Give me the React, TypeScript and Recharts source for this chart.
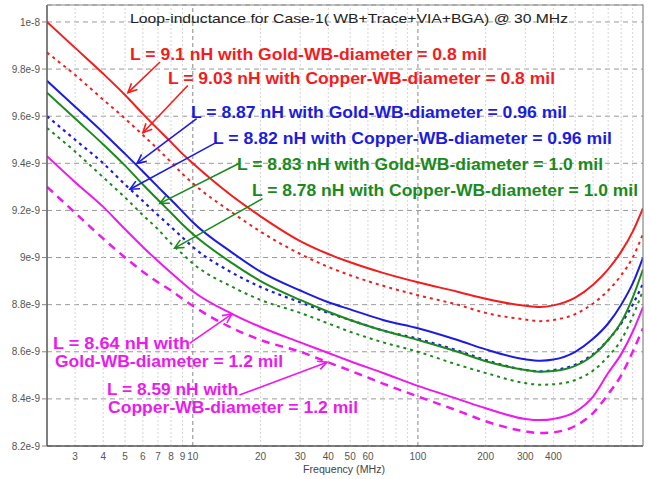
import React from "react";
import { LineChart, Line, XAxis, YAxis, CartesianGrid, ReferenceLine } from "recharts";

// frequency in MHz, inductance in nH (axis shows it as e-9)
const freqs = [2.25, 3, 4, 5, 6, 7, 8, 9, 10, 15, 20, 30, 40, 50, 70, 100, 150, 200, 300, 350, 400, 500, 600, 700, 800, 900, 1000];

const goldWb08 = [10.0, 9.89, 9.78, 9.69, 9.61, 9.545, 9.49, 9.44, 9.4, 9.26, 9.175, 9.07, 9.015, 8.98, 8.935, 8.895, 8.855, 8.825, 8.795, 8.79, 8.797, 8.83, 8.885, 8.95, 9.025, 9.11, 9.21];
const copperWb08 = [9.87, 9.775, 9.67, 9.59, 9.52, 9.46, 9.405, 9.355, 9.315, 9.19, 9.11, 9.015, 8.96, 8.925, 8.88, 8.84, 8.8, 8.765, 8.737, 8.73, 8.735, 8.76, 8.805, 8.86, 8.925, 9.0, 9.1];
const goldWb096 = [9.75, 9.64, 9.53, 9.44, 9.365, 9.3, 9.245, 9.195, 9.15, 9.02, 8.94, 8.86, 8.81, 8.78, 8.735, 8.7, 8.65, 8.61, 8.568, 8.562, 8.567, 8.6, 8.655, 8.72, 8.8, 8.89, 9.0];
const copperWb096 = [9.6, 9.5, 9.4, 9.31, 9.24, 9.18, 9.13, 9.085, 9.045, 8.935, 8.875, 8.81, 8.765, 8.735, 8.69, 8.655, 8.605, 8.565, 8.523, 8.517, 8.522, 8.545, 8.59, 8.65, 8.72, 8.8, 8.89];
const goldWb10 = [9.7, 9.59, 9.48, 9.39, 9.31, 9.245, 9.19, 9.14, 9.1, 8.975, 8.9, 8.82, 8.77, 8.735, 8.69, 8.65, 8.6, 8.56, 8.523, 8.515, 8.518, 8.54, 8.585, 8.65, 8.725, 8.83, 8.95];
const copperWb10 = [9.55, 9.45, 9.34, 9.255, 9.18, 9.12, 9.06, 9.015, 8.975, 8.875, 8.82, 8.765, 8.72, 8.685, 8.64, 8.6, 8.545, 8.51, 8.467, 8.46, 8.462, 8.48, 8.52, 8.58, 8.65, 8.75, 8.86];
const goldWb12 = [9.43, 9.32, 9.215, 9.12, 9.045, 8.985, 8.935, 8.893, 8.857, 8.76, 8.705, 8.64, 8.595, 8.56, 8.51, 8.455, 8.4, 8.36, 8.315, 8.31, 8.315, 8.345, 8.41, 8.51, 8.59, 8.685, 8.79];
const copperWb12 = [9.3, 9.19, 9.08, 9.0, 8.94, 8.895, 8.86, 8.825, 8.795, 8.7, 8.65, 8.6, 8.555, 8.52, 8.465, 8.41, 8.35, 8.305, 8.262, 8.255, 8.258, 8.285, 8.34, 8.42, 8.5, 8.6, 8.7];

const xTicks = [3, 4, 5, 6, 7, 8, 9, 10, 20, 30, 40, 50, 60, 100, 200, 300, 400];
const yTicks = [8.2, 8.4, 8.6, 8.8, 9, 9.2, 9.4, 9.6, 9.8, 10];
const minorGrid = [3, 4, 5, 6, 7, 8, 9, 20, 30, 40, 50, 60, 70, 80, 90, 200, 300, 400, 500, 600, 700, 800, 900];
const majorGrid = [10, 100];

const RED = "#f41c1c";
const BLUE = "#1c1ce0";
const GREEN = "#1b8a1b";
const MAGENTA = "#ec1aec";

const data = freqs.map((f, i) => ({
  f,
  goldWb08: goldWb08[i],
  copperWb08: copperWb08[i],
  goldWb096: goldWb096[i],
  copperWb096: copperWb096[i],
  goldWb10: goldWb10[i],
  copperWb10: copperWb10[i],
  goldWb12: goldWb12[i],
  copperWb12: copperWb12[i],
}));

const series = [
  { key: "goldWb08", color: RED, dash: undefined, width: 2 },
  { key: "copperWb08", color: RED, dash: "3 4", width: 2 },
  { key: "goldWb096", color: BLUE, dash: undefined, width: 2 },
  { key: "copperWb096", color: BLUE, dash: "3 4", width: 2.2 },
  { key: "goldWb10", color: GREEN, dash: undefined, width: 2 },
  { key: "copperWb10", color: GREEN, dash: "3 4", width: 2 },
  { key: "goldWb12", color: MAGENTA, dash: undefined, width: 2 },
  { key: "copperWb12", color: MAGENTA, dash: "8 6", width: 2.5 },
];

// annotation arrows, [freq, nH] from label to curve
const arrows = [
  { color: RED, from: [7.15, 9.83], to: [5.15, 9.7] },
  { color: RED, from: [9.5, 9.73], to: [6.0, 9.53] },
  { color: BLUE, from: [10.4, 9.59], to: [5.65, 9.4] },
  { color: BLUE, from: [12.8, 9.49], to: [5.26, 9.29] },
  { color: GREEN, from: [16.1, 9.4], to: [7.14, 9.23] },
  { color: GREEN, from: [20.4, 9.25], to: [8.3, 9.04] },
  { color: MAGENTA, from: [9.7, 8.637], to: [14.9, 8.76] },
  { color: MAGENTA, from: [16.1, 8.416], to: [39.5, 8.556] },
];

const notes = [
  { text: "L = 9.1 nH with Gold-WB-diameter = 0.8 mil", x: 130, y: 60, w: 357, color: RED },
  { text: "L = 9.03 nH with Copper-WB-diameter = 0.8 mil", x: 168, y: 84, w: 387, color: RED },
  { text: "L = 8.87 nH with Gold-WB-diameter = 0.96 mil", x: 191, y: 118, w: 376, color: BLUE },
  { text: "L = 8.82 nH with Copper-WB-diameter = 0.96 mil", x: 213, y: 144, w: 399, color: BLUE },
  { text: "L = 8.83 nH with Gold-WB-diameter = 1.0 mil", x: 237, y: 170, w: 366, color: GREEN },
  { text: "L = 8.78 nH with Copper-WB-diameter = 1.0 mil", x: 252, y: 196, w: 386, color: GREEN },
  { text: "L = 8.64 nH with", x: 53, y: 349, w: 137, color: MAGENTA },
  { text: "Gold-WB-diameter = 1.2 mil", x: 55, y: 367, w: 228, color: MAGENTA },
  { text: "L = 8.59 nH with", x: 107, y: 395, w: 131, color: MAGENTA },
  { text: "Copper-WB-diameter = 1.2 mil", x: 108, y: 413, w: 250, color: MAGENTA },
];

const FONT = "'Liberation Sans', Arial, Helvetica, sans-serif";

function formatY(v: number) {
  if (v === 10) return "1e-8";
  return `${v}e-9`;
}

function Arrow(props: any) {
  const { x1, y1, x2, y2, stroke } = props;
  const ang = Math.atan2(y2 - y1, x2 - x1);
  const len = 10;
  const spread = 0.45;
  const ax = x2 - len * Math.cos(ang - spread);
  const ay = y2 - len * Math.sin(ang - spread);
  const bx = x2 - len * Math.cos(ang + spread);
  const by = y2 - len * Math.sin(ang + spread);
  return (
    <g stroke={stroke} strokeWidth={1.6} fill="none">
      <line x1={x1} y1={y1} x2={x2} y2={y2} />
      <polyline points={`${ax},${ay} ${x2},${y2} ${bx},${by}`} />
    </g>
  );
}

export default function App() {
  return (
    <div style={{ position: "absolute", left: 0, top: 0, width: 650, height: 479, background: "#fff" }}>
      <LineChart width={650} height={479} data={data} margin={{ top: 5, right: 7, left: 7, bottom: 3 }}>
        <CartesianGrid vertical={false} stroke="#999" strokeDasharray="5 4" />
        {minorGrid.map((g) => (
          <ReferenceLine key={`m${g}`} x={g} stroke="#d6d6d6" strokeDasharray="2 2" />
        ))}
        {majorGrid.map((g) => (
          <ReferenceLine key={`M${g}`} x={g} stroke="#888" strokeDasharray="4 3" />
        ))}
        <XAxis
          dataKey="f"
          type="number"
          scale="log"
          domain={[2.25, 1000]}
          allowDataOverflow
          ticks={xTicks}
          interval={0}
          height={30}
          tickLine={false}
          tickSize={4}
          tickMargin={3}
          axisLine={{ stroke: "#555", strokeWidth: 1.5 }}
          tick={{ fontSize: 10, fill: "#555", fontFamily: FONT }}
        />
        <YAxis
          type="number"
          domain={[8.2, 10.072]}
          allowDataOverflow
          ticks={yTicks}
          interval={0}
          width={40}
          tickSize={5}
          tickMargin={2}
          tickFormatter={formatY}
          tickLine={{ stroke: "#888" }}
          axisLine={{ stroke: "#555", strokeWidth: 1.5 }}
          tick={{ fontSize: 10, fill: "#555", fontFamily: FONT }}
        />
        {series.map((s) => (
          <Line
            key={s.key}
            dataKey={s.key}
            type="monotone"
            stroke={s.color}
            strokeWidth={s.width}
            strokeDasharray={s.dash}
            dot={false}
            isAnimationActive={false}
          />
        ))}
        {arrows.map((a, i) => (
          <ReferenceLine
            key={`a${i}`}
            segment={[
              { x: a.from[0], y: a.from[1] },
              { x: a.to[0], y: a.to[1] },
            ]}
            stroke={a.color}
            ifOverflow="visible"
            shape={(p: any) => <Arrow {...p} stroke={a.color} />}
          />
        ))}
      </LineChart>
      <svg
        width={650}
        height={479}
        style={{ position: "absolute", left: 0, top: 0, pointerEvents: "none" }}
      >
        <polyline points="47,5 643,5 643,446" fill="none" stroke="#888" strokeWidth={1.2} />
        <text x={130} y={23} fontFamily={FONT} fontSize={13} fill="#222" textLength={438} lengthAdjust="spacingAndGlyphs">
          Loop-inductance for Case-1( WB+Trace+VIA+BGA)  @ 30 MHz
        </text>
        {notes.map((n, i) => (
          <text
            key={i}
            x={n.x}
            y={n.y}
            fontFamily={FONT}
            fontSize={16}
            fontWeight="bold"
            fill={n.color}
            textLength={n.w}
            lengthAdjust="spacingAndGlyphs"
          >
            {n.text}
          </text>
        ))}
        <text x={303} y={473} fontFamily={FONT} fontSize={10} fill="#444" textLength={82} lengthAdjust="spacingAndGlyphs">
          Frequency (MHz)
        </text>
      </svg>
    </div>
  );
}
